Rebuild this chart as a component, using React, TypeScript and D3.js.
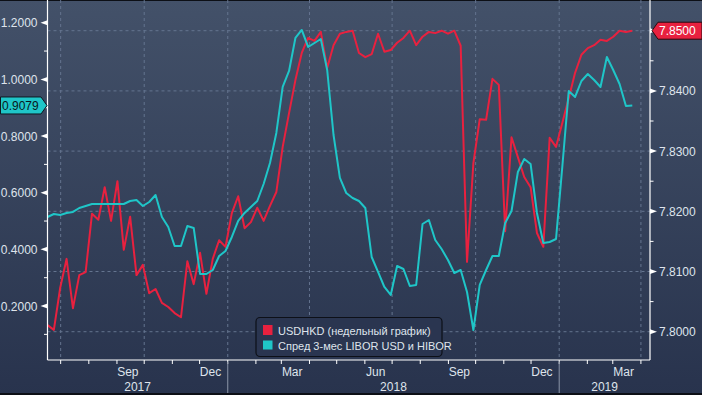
import React from 'react';
import * as d3 from 'd3';

const START = Date.UTC(2017, 5, 16, 12);
const WEEK = 7 * 24 * 3600 * 1000;

const usdhkd = [
  7.8011, 7.8003, 7.8073, 7.8121, 7.8039, 7.8094, 7.8099, 7.8196, 7.8186, 7.824,
  7.8184, 7.825, 7.8136, 7.8191, 7.8094, 7.8111, 7.8064, 7.8071, 7.8048, 7.8041,
  7.8031, 7.8024, 7.8117, 7.8079, 7.8131, 7.8063, 7.8121, 7.8152, 7.8141, 7.8197,
  7.8225, 7.8172, 7.8182, 7.8206, 7.8184, 7.8209, 7.8232, 7.8307, 7.8363, 7.8418,
  7.8463, 7.8488, 7.8483, 7.8498, 7.8438, 7.8476, 7.8495, 7.8498, 7.85, 7.8463,
  7.8456, 7.8461, 7.8495, 7.8465, 7.8468, 7.848, 7.8488, 7.85, 7.8476, 7.849,
  7.8498, 7.8496, 7.85, 7.8495, 7.85, 7.8475, 7.8116, 7.828, 7.8353, 7.8352,
  7.842, 7.841, 7.8167, 7.8323, 7.829, 7.8257, 7.824, 7.8164, 7.8141, 7.8322,
  7.8307, 7.8347, 7.8388, 7.843, 7.846, 7.8471, 7.8476, 7.8485, 7.8483, 7.849,
  7.85, 7.8498, 7.85,
];

const spread = [
  0.5143, 0.5249, 0.5214, 0.5284, 0.532, 0.5461, 0.5531, 0.5602, 0.5602, 0.5602,
  0.5602, 0.5602, 0.5602, 0.5708, 0.5743, 0.5531, 0.5672, 0.5919, 0.5143, 0.479,
  0.4119, 0.4119, 0.4825, 0.4755, 0.3131, 0.3131, 0.3272, 0.3766, 0.3943, 0.4437,
  0.5002, 0.5284, 0.5496, 0.5708, 0.6308, 0.7049, 0.8108, 0.9732, 1.0297, 1.1461,
  1.1744, 1.1144, 1.1285, 1.1426, 1.0332, 0.8037, 0.652, 0.599, 0.5814, 0.5708,
  0.5461, 0.3731, 0.3202, 0.2672, 0.239, 0.3413, 0.3307, 0.2707, 0.2743, 0.4896,
  0.5037, 0.4331, 0.4013, 0.3625, 0.3166, 0.3272, 0.2496, 0.1154, 0.2743, 0.3272,
  0.3766, 0.3766, 0.4931, 0.5355, 0.6731, 0.719, 0.7014, 0.5284, 0.4225, 0.4261,
  0.4366, 0.6943, 0.9591, 0.9379, 0.9943, 1.0191, 0.9979, 0.9732, 1.0791, 1.0332,
  0.9838, 0.9061, 0.9079,
];

const leftTicks = [0.2, 0.4, 0.6, 0.8, 1.0, 1.2];
const leftMinor = [0.1, 0.3, 0.5, 0.7, 0.9, 1.1];
const rightTicks = [7.8, 7.81, 7.82, 7.83, 7.84, 7.85];
const rightMinor = [7.805, 7.815, 7.825, 7.835, 7.845];
const monthLabels = [
  { y: 2017, m: 8, label: 'Sep' },
  { y: 2017, m: 11, label: 'Dec' },
  { y: 2018, m: 2, label: 'Mar' },
  { y: 2018, m: 5, label: 'Jun' },
  { y: 2018, m: 8, label: 'Sep' },
  { y: 2018, m: 11, label: 'Dec' },
  { y: 2019, m: 2, label: 'Mar' },
];
const yearLabels = ['2017', '2018', '2019'];
const legendLabels = ['USDHKD (недельный график)', 'Спред 3-мес LIBOR USD и HIBOR'];

const RED = '#e8213f';
const CYAN = '#1fc6c8';
const FONT = '"Liberation Sans", Arial, sans-serif';

export default function App() {
  const W = 702;
  const H = 395;
  const L = 47.5;
  const R = 650;
  const T = 0;
  const B = 360;

  const x = d3
    .scaleUtc()
    .domain([new Date(Date.UTC(2017, 5, 16, 12)), new Date(Date.UTC(2019, 3, 11))])
    .range([L, R]);
  const yL = d3.scaleLinear().domain([0.0095, 1.2802]).range([B, T]);
  const yR = d3.scaleLinear().domain([7.7953, 7.8551]).range([B, T]);

  const dates = usdhkd.map((_, i) => new Date(START + i * WEEK));

  const redLine = d3
    .line<number>()
    .x((_, i) => x(dates[i]))
    .y((d) => yR(d));
  const cyanLine = d3
    .line<number>()
    .x((_, i) => x(dates[i]))
    .y((d) => yL(d));

  const months = d3.utcMonth.range(new Date(Date.UTC(2017, 6, 1)), new Date(Date.UTC(2019, 3, 2)));
  const quarters = months.filter((d) => d.getUTCMonth() % 3 === 0);
  const jan18 = x(new Date(Date.UTC(2018, 0, 1)));
  const jan19 = x(new Date(Date.UTC(2019, 0, 1)));
  const yearCenters = [(L + jan18) / 2, (jan18 + jan19) / 2, (jan19 + R) / 2];

  const gridColor = '#64748f';
  const textColor = '#dfe4ec';

  const lastSpread = spread[spread.length - 1];
  const lastHkd = usdhkd[usdhkd.length - 1];
  const ly = yL(lastSpread);
  const ry = yR(lastHkd);

  return (
    <svg
      width={W}
      height={H}
      style={{ position: 'absolute', left: 0, top: 0, display: 'block' }}
      fontFamily={FONT}
    >
      <defs>
        <linearGradient id="bg" x1="0" y1="0" x2="0" y2="1">
          <stop offset="0" stopColor="#435169" />
          <stop offset="1" stopColor="#28334d" />
        </linearGradient>
      </defs>
      <rect x={0} y={0} width={W} height={H} fill="url(#bg)" />
      <rect x={0} y={0} width={W} height={1} fill="#0c0f16" />
      <rect x={0} y={H - 2} width={W} height={2} fill="#0c0f16" />

      {/* horizontal grid */}
      {rightTicks.map((t) => (
        <line
          key={'hg' + t}
          x1={L}
          x2={R}
          y1={yR(t)}
          y2={yR(t)}
          stroke={gridColor}
          strokeDasharray="3,3"
        />
      ))}
      {/* vertical grid */}
      {quarters.map((d) => (
        <line
          key={'vg' + d.toISOString()}
          x1={x(d)}
          x2={x(d)}
          y1={T}
          y2={B}
          stroke={gridColor}
          strokeDasharray="3,3"
        />
      ))}

      {/* series */}
      <path d={redLine(usdhkd) || ''} fill="none" stroke={RED} strokeWidth={2} strokeLinejoin="round" />
      <path d={cyanLine(spread) || ''} fill="none" stroke={CYAN} strokeWidth={2} strokeLinejoin="round" />

      {/* axes */}
      <line x1={L} x2={L} y1={T} y2={B} stroke="#ffffff" strokeWidth={1.2} />
      <line x1={R} x2={R} y1={T} y2={B} stroke="#ffffff" strokeWidth={1.2} />
      <line x1={L} x2={R} y1={B} y2={B} stroke="#ffffff" strokeWidth={1.2} />

      {/* left ticks */}
      {leftTicks.map((t) => (
        <g key={'lt' + t}>
          <polygon
            points={`${L - 7},${yL(t)} ${L},${yL(t) - 2.5} ${L},${yL(t) + 2.5}`}
            fill="#ffffff"
          />
          <text x={37.5} y={yL(t) + 4.5} fill={textColor} fontSize={12} textAnchor="end">
            {t.toFixed(4)}
          </text>
        </g>
      ))}
      {leftMinor.map((t) => (
        <line key={'lm' + t} x1={L - 3.5} x2={L} y1={yL(t)} y2={yL(t)} stroke="#ffffff" />
      ))}

      {/* right ticks */}
      {rightTicks.map((t) => (
        <g key={'rt' + t}>
          <polygon
            points={`${R + 7},${yR(t)} ${R},${yR(t) - 2.5} ${R},${yR(t) + 2.5}`}
            fill="#ffffff"
          />
          <text x={659} y={yR(t) + 4.5} fill={textColor} fontSize={12}>
            {t.toFixed(4)}
          </text>
        </g>
      ))}
      {rightMinor.map((t) => (
        <line key={'rm' + t} x1={R} x2={R + 3.5} y1={yR(t)} y2={yR(t)} stroke="#ffffff" />
      ))}

      {/* bottom ticks */}
      {months.map((d) => (
        <line
          key={'bt' + d.toISOString()}
          x1={x(d)}
          x2={x(d)}
          y1={B}
          y2={B + 4}
          stroke="#ffffff"
        />
      ))}
      {monthLabels.map((m) => (
        <text
          key={'ml' + m.y + m.m}
          x={x(new Date(Date.UTC(m.y, m.m, 13)))}
          y={376}
          fill={textColor}
          fontSize={12}
          textAnchor="middle"
        >
          {m.label}
        </text>
      ))}
      {[jan18, jan19].map((v) => (
        <line key={'ys' + v} x1={v} x2={v} y1={B + 2} y2={H - 2} stroke="#8c96a8" />
      ))}
      {yearLabels.map((yl, i) => (
        <text key={yl} x={yearCenters[i]} y={390.5} fill={textColor} fontSize={12} textAnchor="middle">
          {yl}
        </text>
      ))}

      {/* legend */}
      <rect x={256} y={317.5} width={186} height={39} rx={4} fill="#2a3550" stroke="#0d1018" strokeWidth={1.2} />
      <rect x={263} y={325} width={9.5} height={10} fill={RED} />
      <rect x={263} y={340.5} width={9.5} height={9} fill={CYAN} />
      <text x={278} y={334.5} fill={textColor} fontSize={11}>
        {legendLabels[0]}
      </text>
      <text x={278} y={349.5} fill={textColor} fontSize={11}>
        {legendLabels[1]}
      </text>

      {/* last value badges */}
      <polygon
        points={`0.5,${ly - 8.5} 41,${ly - 8.5} 47,${ly} 41,${ly + 8.5} 0.5,${ly + 8.5}`}
        fill={CYAN}
        stroke="#0d1a22"
        strokeWidth={1}
      />
      <text x={2} y={ly + 4.5} fill="#0a1820" fontSize={12}>
        {lastSpread.toFixed(4)}
      </text>
      <polygon
        points={`${R + 2},${ry} ${R + 8},${ry - 8.5} ${W},${ry - 8.5} ${W},${ry + 8.5} ${R + 8},${ry + 8.5}`}
        fill={RED}
        stroke="#2a0a10"
        strokeWidth={1}
      />
      <text x={659} y={ry + 4.5} fill="#ffffff" fontSize={12}>
        {lastHkd.toFixed(4)}
      </text>
    </svg>
  );
}
